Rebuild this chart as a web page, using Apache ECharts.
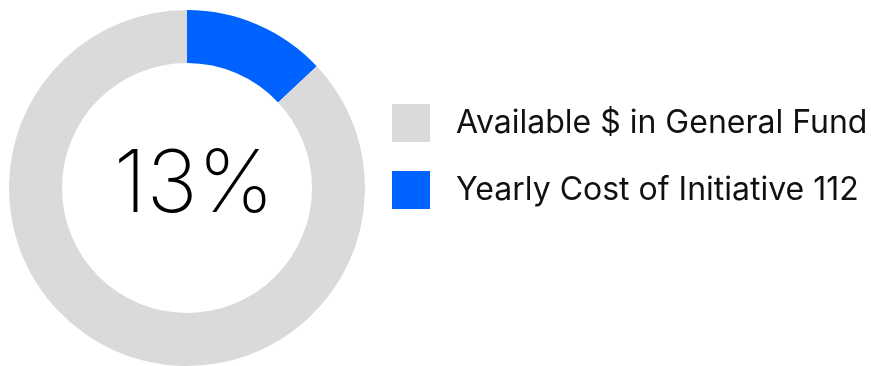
<!DOCTYPE html>
<html><head><meta charset="utf-8">
<script src="https://cdn.jsdelivr.net/npm/echarts@6/dist/echarts.min.js"></script>
<style>html,body{margin:0;padding:0;background:#fff}#c{width:871px;height:366px}</style>
</head><body><div id="c"></div>
<script>
const categories = ["Yearly Cost of Initiative 112", "Available $ in General Fund"];
const values = [13, 87];
const legendOrder = ["Available $ in General Fund", "Yearly Cost of Initiative 112"];
const centerLabel = "13%";
const colors = ["#0062ff", "#dadada"];

const chart = echarts.init(document.getElementById('c'), null, {renderer: 'canvas'});
chart.setOption({
  animation: false,
  color: colors,
  legend: {
    data: legendOrder,
    orient: 'vertical',
    left: 387, top: 99,
    itemWidth: 38, itemHeight: 38, itemGap: 29,
    icon: 'rect',
    textStyle: {fontFamily: 'Inter', fontSize: 32, color: '#111', padding: [0,0,0,21]}
  },
  series: [{
    type: 'pie',
    center: [187, 188],
    radius: [125, 178],
    startAngle: 90,
    clockwise: true,
    silent: true,
    label: {show: false},
    labelLine: {show: false},
    data: categories.map((n, i) => ({name: n, value: values[i]}))
  }],
  graphic: [{
    type: 'text',
    x: 194, y: 186,
    style: {text: centerLabel, fontFamily: 'Inter', fontWeight: 200, fontSize: 86, fill: '#000', textAlign: 'center', textVerticalAlign: 'middle'}
  }]
});
</script></body></html>
